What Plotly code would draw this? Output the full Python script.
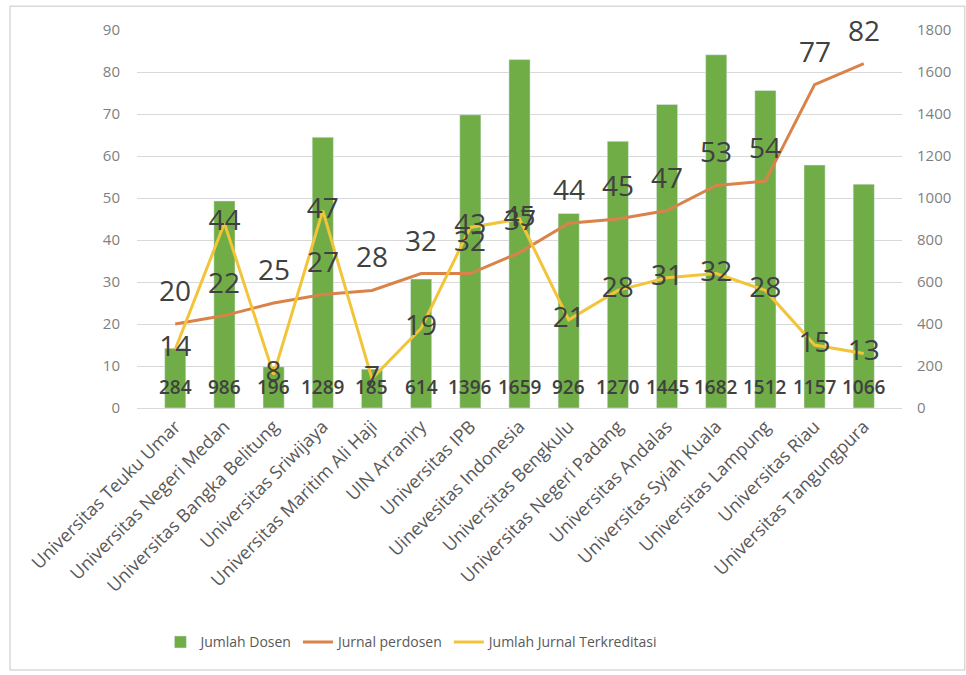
import plotly.graph_objects as go

categories = ["Universitas Teuku Umar", "Universitas Negeri Medan", "Universitas Bangka Belitung",
              "Universitas Sriwijaya", "Universitas Maritim Ali Haji", "UIN Arraniry",
              "Universitas IPB", "Uinevesitas Indonesia", "Universitas Bengkulu",
              "Universitas Negeri Padang", "Universitas Andalas", "Universitas Syiah Kuala",
              "Universitas Lampung", "Universitas Riau", "Universitas Tangungpura"]
jumlah_dosen = [284, 986, 196, 1289, 185, 614, 1396, 1659, 926, 1270, 1445, 1682, 1512, 1157, 1066]
jurnal_perdosen = [20, 22, 25, 27, 28, 32, 32, 37, 44, 45, 47, 53, 54, 77, 82]
jurnal_terkreditasi = [14, 44, 8, 47, 7, 19, 43, 45, 21, 28, 31, 32, 28, 15, 13]

FONT = "Open Sans"
LABEL_COLOR = "#404040"
fig = go.Figure()
fig.add_trace(go.Bar(
    x=categories, y=jumlah_dosen, name="Jumlah Dosen", marker_color="#70AD47",
    width=0.43, yaxis="y"))
fig.add_trace(go.Scatter(
    x=categories, y=jurnal_perdosen, name="Jurnal perdosen", mode="lines",
    line=dict(color="#D9834A", width=3), yaxis="y2"))
fig.add_trace(go.Scatter(
    x=categories, y=jurnal_terkreditasi, name="Jumlah Jurnal Terkreditasi", mode="lines+text",
    line=dict(color="#F2C43A", width=3), text=[str(v) for v in jurnal_terkreditasi],
    textposition="middle center", textfont=dict(family=FONT, size=28, color=LABEL_COLOR),
    cliponaxis=False, yaxis="y2"))

annotations = []
# bar labels at the bar base (inside base)
for c, v in zip(categories, jumlah_dosen):
    annotations.append(dict(x=c, y=0, xref="x", yref="y", text=str(v), showarrow=False,
                            yshift=21, font=dict(family=FONT, size=19, color=LABEL_COLOR,
                                                 weight=600)))
# orange line labels above the points
for c, v in zip(categories, jurnal_perdosen):
    annotations.append(dict(x=c, y=v, xref="x", yref="y2", text=str(v), showarrow=False,
                            yshift=34, font=dict(family=FONT, size=28, color=LABEL_COLOR)))

fig.update_layout(
    width=966, height=675, margin=dict(l=137, r=64, t=30, b=267),
    paper_bgcolor="white", plot_bgcolor="white",
    font=dict(family=FONT, color="#595959"),
    xaxis=dict(tickangle=-45, tickfont=dict(size=18, color="#595959"), showgrid=False,
               showline=True, linecolor="#D9D9D9", linewidth=1),
    yaxis=dict(side="right", range=[0, 1800], dtick=200, showgrid=True, gridcolor="#D9D9D9",
               zeroline=False, tickfont=dict(size=15, color="#7F7F7F"), ticklabelstandoff=14),
    yaxis2=dict(side="left", overlaying="y", range=[0, 90], dtick=10, showgrid=False,
                zeroline=False, tickfont=dict(size=15, color="#7F7F7F"), ticklabelstandoff=16),
    legend=dict(orientation="h", x=0.36, xanchor="center", y=-0.62, yanchor="middle",
                font=dict(size=14, color="#595959"), itemwidth=30),
    showlegend=True,
    annotations=annotations,
    shapes=[dict(type="rect", xref="paper", yref="paper", x0=-0.166, x1=1.082,
                 y0=-0.693, y1=1.063, line=dict(color="#D9D9D9", width=1.5), layer="below")],
)
fig.write_html("out.html")
